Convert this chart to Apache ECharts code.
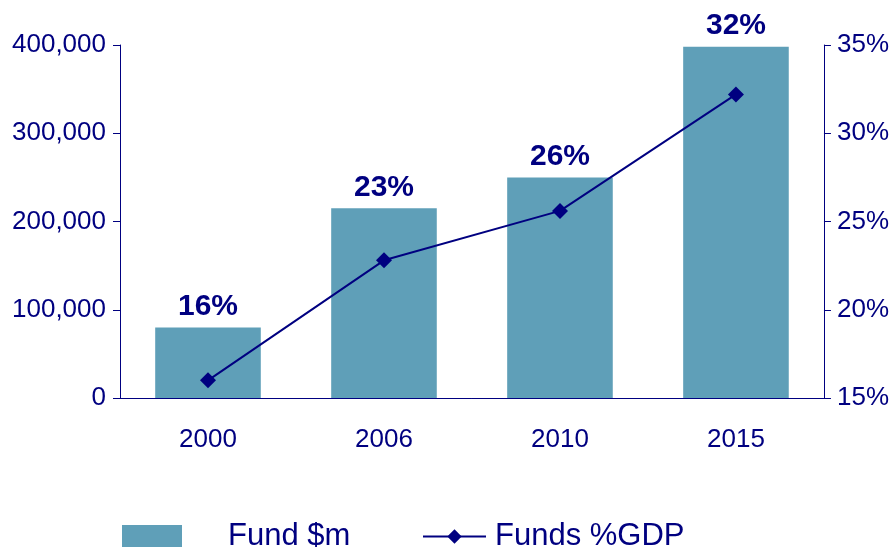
<!DOCTYPE html>
<html>
<head>
<meta charset="utf-8">
<script src="https://cdn.jsdelivr.net/npm/echarts@6/dist/echarts.min.js"></script>
<style>
  html, body { margin: 0; padding: 0; background: #fff; }
  #chart { width: 892px; height: 547px; }
</style>
</head>
<body>
<div id="chart"></div>
<script>
const years = ['2000', '2006', '2010', '2015']
const fundValues = [80000, 215000, 250000, 398000]
const gdpShare = [16.0, 22.8, 25.6, 32.2]
const barLabels = ['16%', '23%', '26%', '32%']

const navy = '#000080'
const chart = echarts.init(document.getElementById('chart'))

const option = {
  animation: false,
  textStyle: { fontFamily: 'Liberation Sans, Arial, sans-serif' },
  grid: { left: 120, right: 66, top: 45, bottom: 149 },
  legend: [
    {
      data: [{ name: 'Fund $m', icon: 'rect' }],
      left: 117,
      top: 516,
      itemWidth: 60,
      itemHeight: 23,
      textStyle: { color: navy, fontSize: 31, padding: [0, 0, 0, 41] }
    },
    {
      data: ['Funds %GDP'],
      left: 417,
      top: 516,
      itemWidth: 63,
      itemHeight: 18,
      textStyle: { color: navy, fontSize: 31, padding: [0, 0, 0, 4] }
    }
  ],
  xAxis: {
    type: 'category',
    data: years,
    axisLine: { lineStyle: { color: navy, width: 1 } },
    axisTick: { length: 10, lineStyle: { color: navy } },
    axisLabel: { color: navy, fontSize: 26, margin: 29 }
  },
  yAxis: [
    {
      type: 'value',
      min: 0,
      max: 400000,
      interval: 100000,
      splitLine: { show: false },
      axisLine: { show: true, lineStyle: { color: navy } },
      axisTick: { show: true, length: 7, lineStyle: { color: navy } },
      axisLabel: {
        color: navy,
        fontSize: 26,
        margin: 14,
        formatter: v => v.toLocaleString('en-US')
      }
    },
    {
      type: 'value',
      min: 15,
      max: 35,
      interval: 5,
      position: 'right',
      splitLine: { show: false },
      axisLine: { show: true, lineStyle: { color: navy } },
      axisTick: { show: true, length: 7, lineStyle: { color: navy } },
      axisLabel: { color: navy, fontSize: 26, margin: 13, formatter: '{value}%' }
    }
  ],
  series: [
    {
      name: 'Fund $m',
      type: 'bar',
      data: fundValues,
      barWidth: '60%',
      itemStyle: { color: '#5f9fb8' },
      z: 1,
      label: {
        show: true,
        position: 'top',
        distance: 6,
        color: navy,
        fontSize: 30,
        fontWeight: 'bold',
        formatter: p => barLabels[p.dataIndex]
      }
    },
    {
      name: 'Funds %GDP',
      type: 'line',
      yAxisIndex: 1,
      data: gdpShare,
      symbol: 'diamond',
      symbolSize: 16,
      lineStyle: { color: navy, width: 2 },
      itemStyle: { color: navy },
      z: 3
    }
  ]
}

chart.setOption(option)
</script>
</body>
</html>
